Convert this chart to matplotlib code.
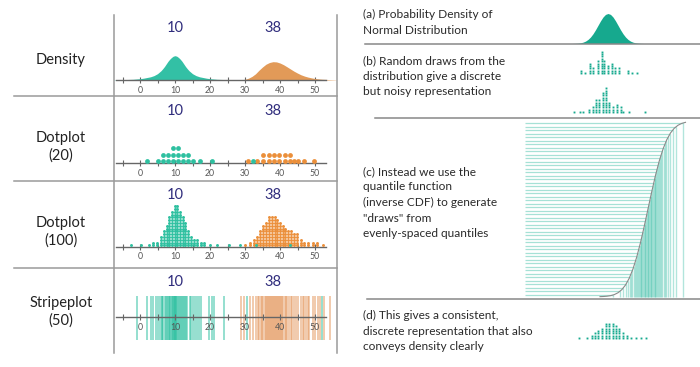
import numpy as np
import matplotlib
matplotlib.use("Agg")
import matplotlib.pyplot as plt
from matplotlib.lines import Line2D
from matplotlib.ticker import FixedLocator, FixedFormatter

W, H = 700, 367
plt.rcParams['font.family'] = ['Lato', 'DejaVu Sans']

TEAL = '#2ec0a0'
TEAL_DARK = '#16a98e'
TEAL_LIGHT = '#a6e1d6'
ORANGE = '#eb8f3a'
ORANGE_D = '#e29a58'
NAVY = '#2f2c7c'
GRID = '#9a9a9a'

# ---------------- data ----------------
means = [10, 38]
tick_values = [-5, 0, 5, 10, 15, 20, 25, 30, 35, 40, 45, 50]
tick_labels = ['', '0', '', '10', '', '20', '', '30', '', '40', '', '50']
row_labels = ['Density', 'Dotplot\n(20)', 'Dotplot\n(100)', 'Stripeplot\n(50)']

dens_teal_x = [-10, -5, -2, 0, 1, 2, 3, 4, 5, 6, 6.5, 7, 7.5, 8, 8.5, 9, 9.5, 10, 10.5,
               11, 11.5, 12, 12.5, 13, 13.5, 14, 15, 16, 17, 18, 19, 20, 22, 25, 30]
dens_teal_y = [.0004, .0013, .0029, .0054, .0075, .0104, .0133, .0183, .0263, .0388,
               .0471, .0563, .0671, .0779, .0867, .0938, .0992, .1013, .0992, .0938,
               .0867, .0779, .0671, .0563, .0471, .0388, .0263, .0183, .0133, .0104,
               .0075, .0054, .0029, .0013, .0004]
dens_orange_x = [27, 29, 30, 31, 32, 33, 34, 35, 36, 37, 38, 39, 40, 41, 42, 43, 44, 45,
                 46, 47, 48, 49, 50, 51, 52, 54, 56]
dens_orange_y = [.0004, .0013, .0029, .0075, .0150, .0258, .0408, .0542, .0658, .0729,
                 .0763, .0754, .0708, .0638, .0550, .0458, .0367, .0288, .0217, .0163,
                 .0121, .0088, .0063, .0046, .0033, .0019, .0008]

dot20_teal_x = [1.9, 5.0, 6.7, 8.1, 9.5, 10.9, 12.4, 13.6, 15.0, 17.0, 20.5, 32.2]
dot20_teal_n = [1, 1, 2, 2, 3, 3, 2, 2, 1, 1, 1, 1]
dot20_orange_x = [30.9, 33.5, 35.2, 36.8, 38.3, 39.8, 41.4, 42.9, 43.9, 45.1, 46.9, 49.7]
dot20_orange_n = [1, 1, 2, 2, 2, 2, 2, 2, 1, 1, 1, 1]

dot100_teal_x = [-2.6, 0.3, 2.6, 3.8, 4.9, 6.1, 6.9, 7.6, 8.4, 9.1, 9.9, 10.7, 11.4, 12.2,
                 12.9, 13.7, 14.5, 15.4, 16.4, 17.3, 18.4, 20.0, 21.9, 25.5, 28.5, 33.1, 42.9]
dot100_teal_n = [1, 1, 1, 2, 2, 4, 6, 8, 11, 13, 15, 15, 13, 11, 9, 6, 4, 3, 3, 2, 2, 1, 1,
                 1, 1, 1, 1]
dot100_orange_x = [30.0, 31.4, 32.6, 33.5, 34.3, 35.0, 36.0, 36.9, 37.7, 38.5, 39.2, 40.0,
                   40.8, 41.5, 42.3, 43.1, 44.0, 44.9, 45.9, 46.9, 48.1, 49.3, 50.7, 52.4]
dot100_orange_n = [1, 2, 3, 4, 6, 8, 9, 11, 11, 11, 10, 9, 8, 7, 6, 6, 5, 5, 3, 2, 2, 2, 2, 1]

stripe_teal = [-1.0, 2.1, 3.2, 3.8, 4.6, 5.1, 5.7, 6.2, 6.4, 6.6, 7.0, 7.3, 7.6, 7.9, 8.2,
               8.5, 8.7, 9.0, 9.2, 9.4, 9.6, 9.8, 9.9, 10.0, 10.2, 10.4, 10.6, 10.8, 11.0,
               11.3, 11.6, 11.9, 12.2, 12.5, 12.8, 13.1, 13.5, 14.2, 14.6, 15.0, 15.8,
               16.3, 16.9, 17.5, 19.7, 20.7, 21.0, 24.0, 30.5, 51.9]
stripe_orange = [28.9, 29.6, 31.4, 32.4, 33.1, 33.8, 33.9, 34.5, 34.8, 35.2, 35.6, 36.0,
                 36.3, 36.6, 36.9, 37.2, 37.5, 37.8, 38.0, 38.2, 38.5, 38.8, 39.0, 39.3,
                 39.6, 39.9, 40.2, 40.5, 40.9, 41.3, 41.7, 42.1, 42.5, 43.0, 43.5, 44.0,
                 44.6, 45.2, 46.1, 46.5, 46.9, 47.5, 48.0, 48.4, 49.3, 50.0, 50.8, 51.3,
                 52.5, 54.3]

# right panel (standard normal units)
pdf_z = [-3.5, -3.25, -3.0, -2.75, -2.5, -2.25, -2.0, -1.75, -1.5, -1.25, -1.0, -0.75,
         -0.5, -0.25, 0, 0.25, 0.5, 0.75, 1.0, 1.25, 1.5, 1.75, 2.0, 2.25, 2.5, 2.75,
         3.0, 3.25, 3.5]
pdf_v = [.0009, .0020, .0044, .0091, .0175, .0317, .0540, .0863, .1295, .1826, .2420,
         .3011, .3521, .3867, .3989, .3867, .3521, .3011, .2420, .1826, .1295, .0863,
         .0540, .0317, .0175, .0091, .0044, .0020, .0009]

draw1_z = [-2.7, -2.3, -1.8, -1.5, -1.0, -0.6, -0.4, 0.0, 0.4, 0.7, 1.1, 2.0, 2.4, 2.9]
draw1_n = [2, 1, 5, 3, 6, 10, 6, 4, 5, 3, 3, 2, 1, 1]
draw2_z = [-3.4, -2.8, -2.5, -1.9, -1.5, -1.2, -0.9, -0.5, -0.2, 0.1, 0.5, 0.9, 1.3, 1.5,
           2.1, 3.7]
draw2_n = [1, 1, 1, 2, 3, 6, 6, 9, 11, 5, 3, 4, 3, 1, 1, 1]

cdf_z = [-3.2, -3.0, -2.75, -2.5, -2.25, -2.0, -1.75, -1.5, -1.25, -1.0, -0.75, -0.5,
         -0.25, 0.0, 0.25, 0.5, 0.75, 1.0, 1.25, 1.5, 1.75, 2.0, 2.25, 2.5]
cdf_p = [.0007, .0013, .0030, .0062, .0122, .0228, .0401, .0668, .1056, .1587, .2266,
         .3085, .4013, .5, .5987, .6915, .7734, .8413, .8944, .9332, .9599, .9772,
         .9878, .9938]

q_half = [-2.326, -1.881, -1.645, -1.476, -1.341, -1.227, -1.126, -1.036, -0.954, -0.878,
          -0.806, -0.739, -0.674, -0.613, -0.553, -0.496, -0.440, -0.385, -0.332, -0.279,
          -0.228, -0.176, -0.126, -0.075, -0.025]
p_half = [.01, .03, .05, .07, .09, .11, .13, .15, .17, .19, .21, .23, .25, .27, .29, .31,
          .33, .35, .37, .39, .41, .43, .45, .47, .49]
quant_z = q_half + [-v for v in q_half[::-1]]
quant_p = p_half + [1 - v for v in p_half[::-1]]

qdot_z = [-2.9, -2.1, -1.6, -1.3, -1.0, -0.6, -0.2, 0.1, 0.5, 0.8, 1.1, 1.5, 1.9, 2.3,
          2.8, 3.3, 3.8]
qdot_n = [1, 1, 2, 3, 4, 5, 7, 7, 7, 6, 5, 3, 2, 1, 1, 1, 1]

texts = [
    "(a) Probability Density of\nNormal Distribution",
    "(b) Random draws from the\ndistribution give a discrete\nbut noisy representation",
    "(c) Instead we use the\nquantile function\n(inverse CDF) to generate\n\"draws\" from\nevenly-spaced quantiles",
    "(d) This gives a consistent,\ndiscrete representation that also\nconveys density clearly",
]

# ---------------- figure ----------------
fig = plt.figure(figsize=(W / 100, H / 100), dpi=100, facecolor='white')


def panel(xp0, xp1, yp_top, yp_bot, x0px, xppu, y0px, yppu):
    ax = fig.add_axes([xp0 / W, 1 - yp_bot / H, (xp1 - xp0) / W, (yp_bot - yp_top) / H])
    ax.set_xlim((xp0 - x0px) / xppu, (xp1 - x0px) / xppu)
    ax.set_ylim((y0px - yp_bot) / yppu, (y0px - yp_top) / yppu)
    ax.patch.set_alpha(0)
    return ax


def stack(xs, ns, base, step):
    X, Y = [], []
    for x, n in zip(xs, ns):
        for k in range(n):
            X.append(x)
            Y.append(base + k * step)
    return X, Y


def fig_line(x0, y0, x1, y1, color=GRID, lw=1.1):
    fig.add_artist(Line2D([x0 / W, x1 / W], [1 - y0 / H, 1 - y1 / H],
                          transform=fig.transFigure, color=color, lw=lw))


def style_row(ax):
    for s in ['top', 'right', 'left']:
        ax.spines[s].set_visible(False)
    ax.spines['bottom'].set_position(('data', 0))
    ax.spines['bottom'].set_bounds(-7, 53)
    ax.spines['bottom'].set_color('#666666')
    ax.spines['bottom'].set_linewidth(1.0)
    ax.set_yticks([])
    ax.xaxis.set_major_locator(FixedLocator(tick_values))
    ax.xaxis.set_major_formatter(FixedFormatter(tick_labels))
    ax.tick_params(axis='x', direction='inout', length=5, width=0.8, color='#666666',
                   labelsize=6.3, labelcolor='#555555', pad=1.5)


# left grid lines
fig_line(114, 15, 114, 353)
fig_line(337, 15, 337, 353)
for yy in [96, 181, 268]:
    fig_line(14, yy, 337, yy)

row_y = [60, 147, 232, 312]
for lab, yy in zip(row_labels, row_y):
    fig.text(61 / W, 1 - yy / H, lab, ha='center', va='center', fontsize=10.5,
             color='#222222', linespacing=1.3)

X0PX, XPPU = 140, 3.5

# Row 1: density
ax1 = panel(114, 337, 20, 92, X0PX, XPPU, 80, 240)
style_row(ax1)
ax1.fill_between(dens_teal_x, 0, dens_teal_y, color='#33c0a5', lw=0, zorder=2)
ax1.fill_between(dens_orange_x, 0, dens_orange_y, color=ORANGE_D, lw=0, zorder=2)
for m in means:
    ax1.text(m, 52 / 240, str(m), ha='center', va='center', fontsize=10.5, color=NAVY)

# Row 2: dotplot 20
ax2 = panel(114, 337, 100, 176, X0PX, XPPU, 163.3, 1)
style_row(ax2)
ox, oy = stack(dot20_orange_x, dot20_orange_n, 2.6, 6.2)
tx, ty = stack(dot20_teal_x, dot20_teal_n, 2.6, 6.2)
ax2.scatter(ox, oy, s=12, color=ORANGE, lw=0, zorder=3)
ax2.scatter(tx, ty, s=12, color=TEAL, lw=0, zorder=3)
for m in means:
    ax2.text(m, 52.3, str(m), ha='center', va='center', fontsize=10.5, color=NAVY)

# Row 3: dotplot 100
ax3 = panel(114, 337, 185, 260, X0PX, XPPU, 246.7, 1)
style_row(ax3)
ox, oy = stack(dot100_orange_x, dot100_orange_n, 1.3, 2.8)
tx, ty = stack(dot100_teal_x, dot100_teal_n, 1.3, 2.8)
ax3.scatter(ox, oy, s=4.5, color=ORANGE, lw=0, zorder=3, marker='o')
ax3.scatter(tx, ty, s=4.5, color=TEAL, lw=0, zorder=3, marker='o')
for m in means:
    ax3.text(m, 51.7, str(m), ha='center', va='center', fontsize=10.5, color=NAVY)

# Row 4: stripes
ax4 = panel(114, 337, 270, 345, X0PX, XPPU, 317.3, 1)
style_row(ax4)
ax4.vlines(stripe_teal, -22.7, 21.3, color='#2bbf9f', alpha=0.5, lw=1.4, zorder=1)
ax4.vlines(stripe_orange, -22.7, 21.3, color='#e3955a', alpha=0.5, lw=1.4, zorder=1)
for m in means:
    ax4.text(m, 35.3, str(m), ha='center', va='center', fontsize=10.5, color=NAVY)

# right separators
fig_line(365, 43.5, 700, 43.5, color='#888888')
fig_line(375, 118, 700, 118, color='#888888')
fig_line(367, 299, 700, 299, color='#888888')

# texts
text_top = [9, 55, 166, 310]
for t, yy in zip(texts, text_top):
    fig.text(363 / W, 1 - yy / H, t, ha='left', va='top', fontsize=8.6,
             color='#2a2a2a', linespacing=1.5)

# (a) normal density
axa = panel(560, 660, 8, 44, 608, 10, 43.5, 30 / 0.3989)
axa.axis('off')
axa.fill_between(pdf_z, 0, pdf_v, color=TEAL_DARK, lw=0)

# (b) random draws
axb1 = panel(560, 660, 45, 76, 608, 10, 74, 1)
axb1.axis('off')
bx, by = stack(draw1_z, draw1_n, 0.8, 2.4)
axb1.plot(bx, by, ls='none', marker='s', ms=1.35, mew=0, color=TEAL_DARK)

axb2 = panel(560, 660, 80, 115, 608, 10, 113, 1)
axb2.axis('off')
bx, by = stack(draw2_z, draw2_n, 0.8, 2.4)
axb2.plot(bx, by, ls='none', marker='s', ms=1.35, mew=0, color=TEAL_DARK)

# (c) quantile function
PPU = 172 / 0.98
axc = panel(525, 692, 119, 298, 648, 15, 295 + 0.01 * PPU, PPU)
axc.axis('off')
xl = axc.get_xlim()[0]
axc.hlines(quant_p, xl, quant_z, color=TEAL_LIGHT, lw=0.9, zorder=1)
axc.vlines(quant_z, 0, quant_p, color='#36bda4', alpha=0.38, lw=1.0, zorder=1)
axc.plot(cdf_z, cdf_p, color='#8a8a8a', lw=0.8, zorder=3)

# (d) quantile dotplot
axd = panel(560, 660, 315, 342, 608, 10, 339, 1)
axd.axis('off')
dx, dy = stack(qdot_z, qdot_n, 0.8, 2.4)
axd.plot(dx, dy, ls='none', marker='s', ms=1.35, mew=0, color=TEAL_DARK)

fig.savefig('out.png', dpi=100, facecolor='white')
